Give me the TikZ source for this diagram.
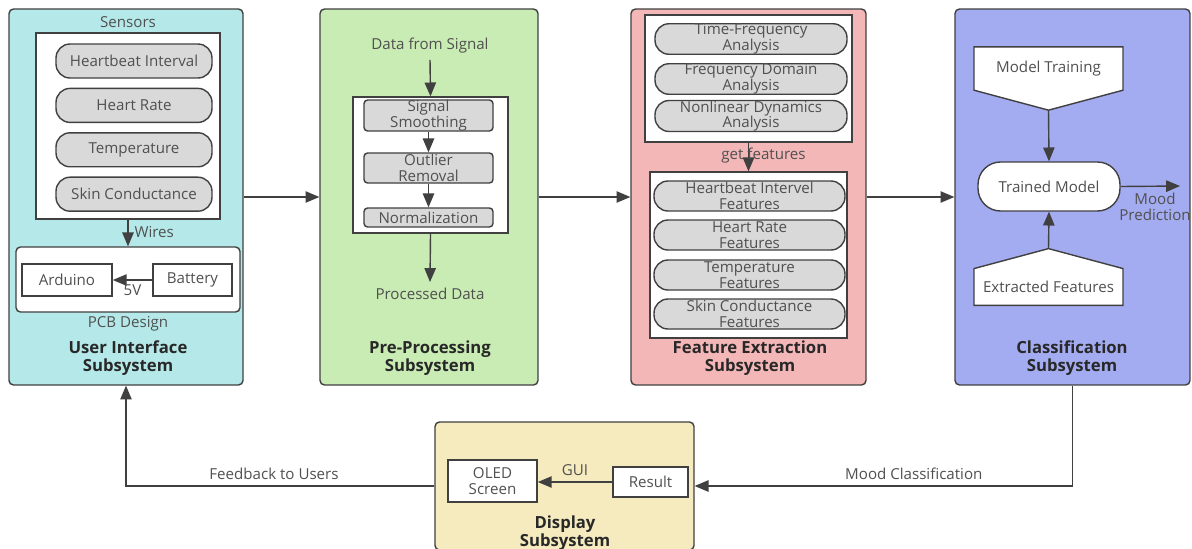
\documentclass[tikz,border=0pt]{standalone}
\usepackage{fontspec}
\setmainfont{Open Sans}
\usetikzlibrary{positioning,arrows,shapes.symbols,calc}
\definecolor{uicyan}{RGB}{181,233,233}
\definecolor{pregreen}{RGB}{201,235,180}
\definecolor{featpink}{RGB}{244,183,183}
\definecolor{clsblue}{RGB}{164,172,241}
\definecolor{dispyellow}{RGB}{245,235,191}
\definecolor{pillgray}{RGB}{217,217,217}
\definecolor{linegray}{RGB}{64,64,64}
\definecolor{textgray}{RGB}{80,80,80}
\definecolor{titlegray}{RGB}{40,40,40}
\newcommand{\mytext}{\fontsize{8.6}{9}\selectfont}
\newcommand{\mytitle}{\bfseries\fontsize{9.5}{10.2}\selectfont}
\tikzset{
>=triangle 45,
}

\begin{document}
\begin{tikzpicture}[x=0.02cm, y=-0.02cm]
    \tikzset{
        sysbox/.style={rectangle, rounded corners=2.5pt, draw=linegray, line width=0.8pt},
        whitebox/.style={rectangle, draw=linegray, line width=0.8pt, fill=white},
        pill/.style={rectangle, rounded corners=0.28cm, draw=linegray, line width=0.8pt, fill=pillgray, text=textgray, align=center, inner sep=0pt, font=\mytext},
        sensorpill/.style={pill, minimum width=3.12cm, minimum height=0.68cm},
        anpill/.style={pill, minimum width=3.84cm, minimum height=0.6cm},
        ftpill/.style={pill, minimum width=3.82cm, minimum height=0.6cm},
        stepbox/.style={rectangle, rounded corners=2pt, draw=linegray, line width=0.8pt, fill=pillgray, text=textgray, align=center, inner sep=0pt, font=\mytext, minimum width=2.58cm},
        plainbox/.style={rectangle, draw=linegray, line width=1pt, fill=white, text=textgray, align=center, inner sep=0pt, font=\mytext},
        shapebox/.style={signal, draw=linegray, line width=0.8pt, fill=white, text=textgray, font=\mytext, signal pointer angle=150, minimum width=2.98cm},
        lbl/.style={font=\mytext, text=textgray, align=center},
        title/.style={font=\mytitle, text=titlegray, align=center},
        myarrow/.style={draw=linegray, line width=0.8pt, ->},
    }
    \fill[white] (0,0) rectangle (1192,548);
    \useasboundingbox (0,0) rectangle (1192,548);

    % subsystems
    \node[sysbox, fill=uicyan, minimum width=4.68cm, minimum height=7.52cm] (ui) at (126,197) {};
    \node[sysbox, fill=pregreen, minimum width=4.36cm, minimum height=7.52cm] (pre) at (429,197) {};
    \node[sysbox, fill=featpink, minimum width=4.7cm, minimum height=7.52cm] (feat) at (748.5,197) {};
    \node[sysbox, fill=clsblue, minimum width=4.7cm, minimum height=7.52cm] (cls) at (1072.5,197) {};
    \node[sysbox, fill=dispyellow, minimum width=5.18cm, minimum height=2.56cm] (disp) at (564.5,486) {};

    % user interface
    \node[lbl] (senslbl) at (128,22) {Sensors};
    \node[whitebox, minimum width=3.68cm, minimum height=3.72cm] (sens) at (128,126) {};
    \node[sensorpill] (hbi) at (134,61) {Heartbeat Interval};
    \node[sensorpill, below=0.18cm of hbi] (hr) {Heart Rate};
    \node[sensorpill, below=0.18cm of hr] (temp) {Temperature};
    \node[sensorpill, below=0.18cm of temp] (skin) {Skin Conductance};
    \node[whitebox, rounded corners=2.5pt, minimum width=4.48cm, minimum height=1.3cm] (pcb) at (128,279.5) {};
    \node[plainbox, minimum width=1.8cm, minimum height=0.64cm] (ard) at (67,280) {Arduino};
    \node[plainbox, minimum width=1.58cm, minimum height=0.64cm] (bat) at (192.5,280) {Battery};
    \node[lbl] (pcblbl) at (128,324) {PCB Design};
    \node[title] (uititle) at (128,358) {User Interface\\Subsystem};
    \draw[myarrow] (sens.south) -- node[lbl, right, pos=0.45] {Wires} (pcb.north);
    \draw[myarrow] (bat.west) -- node[lbl, below=-1pt] {5V} (ard.east);

    % pre-processing
    \node[lbl] (dfs) at (430,46) {Data from Signal};
    \node[whitebox, minimum width=3.1cm, minimum height=2.72cm] (stepsbox) at (430.5,165) {};
    \node[stepbox, minimum height=0.58cm] (smooth) at (428.5,115.5) {Signal\\Smoothing};
    \node[stepbox, minimum height=0.6cm] (outl) at (428.5,168) {Outlier\\Removal};
    \node[stepbox, minimum height=0.38cm] (norm) at (428.5,217.5) {Normalization};
    \node[lbl] (pdata) at (430,294) {Processed Data};
    \node[title] (pretitle) at (430,358) {Pre-Processing\\Subsystem};
    \draw[myarrow] (dfs.south) -- (stepsbox.north);
    \draw[myarrow] (smooth) -- (outl);
    \draw[myarrow] (outl) -- (norm);
    \draw[myarrow] (stepsbox.south) -- (pdata.north);

    % feature extraction
    \node[whitebox, minimum width=4.14cm, minimum height=2.54cm] (anbox) at (748.5,78.5) {};
    \node[anpill] (tfa) at (751,39) {Time-Frequency\\Analysis};
    \node[anpill] (fda) at (751,79) {Frequency Domain\\Analysis};
    \node[anpill] (nda) at (751,116) {Nonlinear Dynamics\\Analysis};
    \node[whitebox, minimum width=3.94cm, minimum height=3.32cm] (ftbox) at (748.5,255) {};
    \node[ftpill] (hbf) at (749.5,196) {Heartbeat Intervel\\Features};
    \node[ftpill] (hrf) at (749.5,235) {Heart Rate\\Features};
    \node[ftpill] (tf) at (749.5,275) {Temperature\\Features};
    \node[ftpill] (scf) at (749.5,314) {Skin Conductance\\Features};
    \node[title] (feattitle) at (750,358) {Feature Extraction\\Subsystem};
    \draw[myarrow] (anbox.south) -- node[lbl, pos=0.45, xshift=0.3cm] {get features} (ftbox.north);

    % classification
    \node[shapebox, signal to=south, minimum height=1.18cm] (train) at (1048.5,68.5) {Model Training};
    \node[rectangle, rounded corners=0.45cm, draw=linegray, line width=0.8pt, fill=white, text=textgray, font=\mytext, minimum width=2.84cm, minimum height=0.98cm] (trained) at (1049,186.5) {Trained Model};
    \node[shapebox, signal to=north, minimum height=1.12cm] (ext) at (1048.5,287) {Extracted Features};
    \coordinate (moodend) at (1180,186);
    \node[lbl] (moodlbl) at (1155,207) {Mood\\Prediction};
    \node[title] (clstitle) at (1072,358) {Classification\\Subsystem};
    \draw[myarrow] (train.south) -- (trained.north);
    \draw[myarrow] (ext.north) -- (trained.south);
    \draw[myarrow] (trained.east) -- (moodend);

    % display
    \node[plainbox, minimum width=1.78cm, minimum height=0.84cm] (oled) at (492.5,481) {OLED\\Screen};
    \node[plainbox, minimum width=1.5cm, minimum height=0.6cm] (res) at (650.5,482) {Result};
    \node[title] (disptitle) at (565,533) {Display\\Subsystem};
    \draw[myarrow] (res.west) -- node[lbl, above] {GUI} (oled.east |- res.west);

    % between subsystems
    \draw[myarrow] (ui.east) -- (pre.west);
    \draw[myarrow] (pre.east) -- (feat.west);
    \draw[myarrow] (feat.east) -- (cls.west);
    \draw[myarrow] (cls.south) |- node[lbl, above, pos=0.71] {Mood Classification} (disp.east);
    \draw[myarrow] (disp.west) -| node[lbl, above, pos=0.26] {Feedback to Users} (ui.south);
\end{tikzpicture}
\end{document}
